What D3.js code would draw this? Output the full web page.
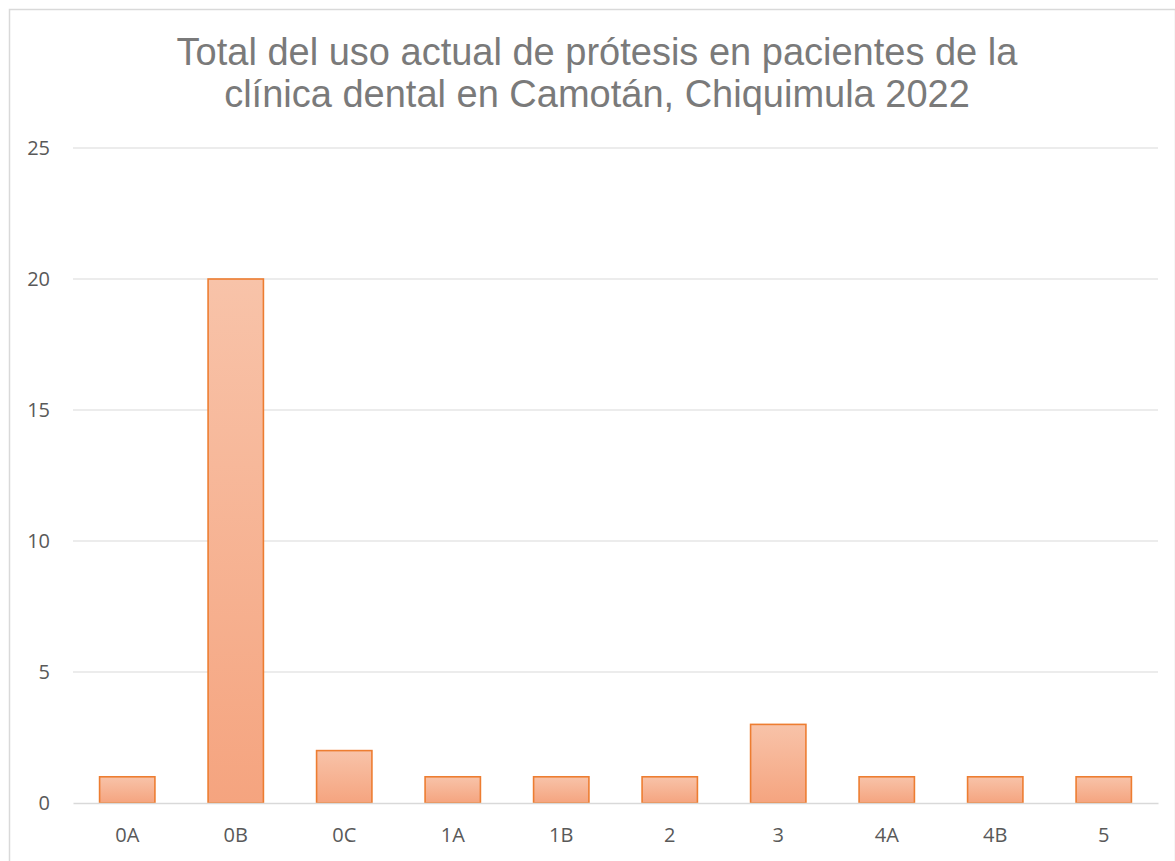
<!DOCTYPE html>
<html>
<head>
<meta charset="utf-8">
<script src="https://cdn.jsdelivr.net/npm/d3@7"></script>
<style>
  body { margin: 0; background: #fff; }
  svg { display: block; }
</style>
</head>
<body>
<script>
// datos
const categorias = ["0A", "0B", "0C", "1A", "1B", "2", "3", "4A", "4B", "5"]
const valores = [1, 20, 2, 1, 1, 1, 3, 1, 1, 1]
const ticksY = [0, 5, 10, 15, 20, 25]
const titulo = ["Total del uso actual de prótesis en pacientes de la", "clínica dental en Camotán, Chiquimula 2022"]

const W = 1175, H = 861
const m = { left: 73, right: 1158, top: 148, bottom: 803 }

const svg = d3.select("body").append("svg").attr("width", W).attr("height", H)

// marco
svg.append("rect").attr("x", 9.5).attr("y", 9.5).attr("width", W - 9).attr("height", H)
  .attr("fill", "#fff").attr("stroke", "#d9d9d9").attr("stroke-width", 1.5)

// degradado de barras
const grad = svg.append("defs").append("linearGradient").attr("id", "g")
  .attr("x1", 0).attr("y1", 0).attr("x2", 0).attr("y2", 1)
grad.append("stop").attr("offset", "0%").attr("stop-color", "#f8c3a9")
grad.append("stop").attr("offset", "100%").attr("stop-color", "#f5a47f")

const x = d3.scaleBand().domain(categorias).range([m.left, m.right]).paddingInner(0.49).paddingOuter(0.245)
const y = d3.scaleLinear().domain([0, 25]).range([m.bottom, m.top])

// cuadrícula
svg.append("g").selectAll("line").data(ticksY.slice(1)).enter().append("line")
  .attr("x1", m.left).attr("x2", m.right)
  .attr("y1", d => y(d)).attr("y2", d => y(d))
  .attr("stroke", "#d9d9d9").attr("stroke-width", 1.2)

// eje Y
const ejeY = svg.append("g").attr("transform", `translate(${m.left},0)`)
  .call(d3.axisLeft(y).tickValues(ticksY).tickSize(0).tickPadding(23))
ejeY.select(".domain").remove()
ejeY.selectAll("text").attr("fill", "#595959").style("font-family", "'Open Sans', sans-serif").style("font-size", "20px")

// barras
svg.append("g").selectAll("rect").data(valores).enter().append("rect")
  .attr("x", (d, i) => x(categorias[i]))
  .attr("y", d => y(d))
  .attr("width", x.bandwidth())
  .attr("height", d => y(0) - y(d))
  .attr("fill", "url(#g)")
  .attr("stroke", "#ed7d31").attr("stroke-width", 1.6)

// eje X
const ejeX = svg.append("g").attr("transform", `translate(0,${m.bottom})`)
  .call(d3.axisBottom(x).tickSize(0).tickPadding(25))
ejeX.select(".domain").attr("stroke", "#d9d9d9").attr("stroke-width", 1.5)
ejeX.selectAll("text").attr("fill", "#595959").style("font-family", "'Open Sans', sans-serif").style("font-size", "20px")

// título
svg.append("text").attr("x", 597).attr("y", 65).attr("text-anchor", "middle")
  .attr("fill", "#7a7a7a").style("font-family", "'Liberation Sans', Arial, sans-serif").style("font-size", "38px")
  .selectAll("tspan").data(titulo).enter().append("tspan")
  .attr("x", 597).attr("dy", (d, i) => i == 0 ? 0 : 42).text(d => d)
</script>
</body>
</html>
